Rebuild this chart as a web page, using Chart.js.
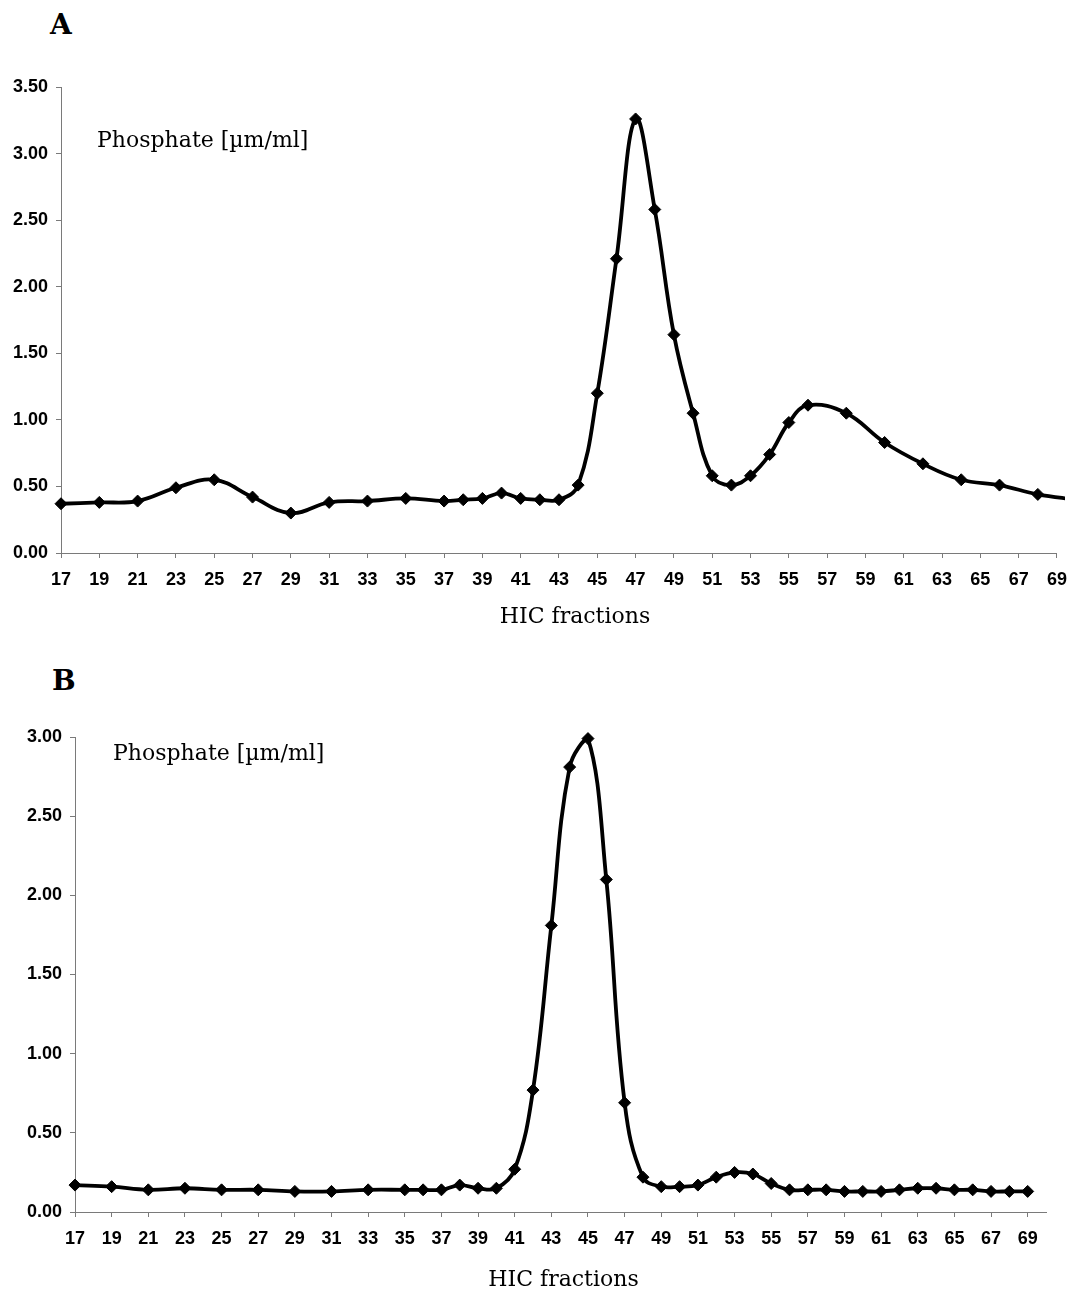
<!DOCTYPE html>
<html>
<head>
<meta charset="utf-8">
<script src="https://cdn.jsdelivr.net/npm/chart.js@4.4.1/dist/chart.umd.min.js"></script>
<style>
  body { margin: 0; background: #fff; }
  #wrap { position: relative; width: 1078px; height: 1296px; overflow: hidden; }
  canvas { position: absolute; left: 0; }
  #chartA { top: 0; }
  #chartB { top: 640px; }
  .panel {
    position: absolute;
    font-family: "DejaVu Serif", serif;
    font-weight: bold;
    font-size: 28px;
    line-height: 32px;
  }
</style>
</head>
<body>
<div id="wrap">
  <div class="panel" style="left:50px; top:9px;">A</div>
  <canvas id="chartA" width="1078" height="640"></canvas>
  <div class="panel" style="left:52px; top:665px;">B</div>
  <canvas id="chartB" width="1078" height="656"></canvas>
</div>

<script>
// --- Messwerte ---
const fractionsA = [17, 19, 21, 23, 25, 27, 29, 31, 33, 35, 37, 38, 39, 40, 41, 42, 43, 44, 45, 46, 47, 48, 49, 50, 51, 52, 53, 54, 55, 56, 58, 60, 62, 64, 66, 68, 70];
const phosphateA = [0.37, 0.38, 0.39, 0.49, 0.55, 0.42, 0.30, 0.38, 0.39, 0.41, 0.39, 0.40, 0.41, 0.45, 0.41, 0.40, 0.40, 0.51, 1.20, 2.21, 3.26, 2.58, 1.64, 1.05, 0.58, 0.51, 0.58, 0.74, 0.98, 1.11, 1.05, 0.83, 0.67, 0.55, 0.51, 0.44, 0.40];

const fractionsB = [17, 19, 21, 23, 25, 27, 29, 31, 33, 35, 36, 37, 38, 39, 40, 41, 42, 43, 44, 45, 46, 47, 48, 49, 50, 51, 52, 53, 54, 55, 56, 57, 58, 59, 60, 61, 62, 63, 64, 65, 66, 67, 68, 69];
const phosphateB = [0.17, 0.16, 0.14, 0.15, 0.14, 0.14, 0.13, 0.13, 0.14, 0.14, 0.14, 0.14, 0.17, 0.15, 0.15, 0.27, 0.77, 1.81, 2.81, 2.99, 2.10, 0.69, 0.22, 0.16, 0.16, 0.17, 0.22, 0.25, 0.24, 0.18, 0.14, 0.14, 0.14, 0.13, 0.13, 0.13, 0.14, 0.15, 0.15, 0.14, 0.14, 0.13, 0.13, 0.13];

const fractionTicks = [17, 19, 21, 23, 25, 27, 29, 31, 33, 35, 37, 39, 41, 43, 45, 47, 49, 51, 53, 55, 57, 59, 61, 63, 65, 67, 69];
const yTicksA = [0, 0.5, 1.0, 1.5, 2.0, 2.5, 3.0, 3.5];
const yTicksB = [0, 0.5, 1.0, 1.5, 2.0, 2.5, 3.0];

const yLabel = "Phosphate [µm/ml]";
const xLabel = "HIC fractions";

const axisGrey = "#7a7a7a";
const tickFont = { family: "'Liberation Sans', Arial, sans-serif", size: 18, weight: "bold" };
const serifFont = "'DejaVu Serif', serif";

// Beschriftung innerhalb der Zeichenfläche
const innerLabel = {
    id: "innerLabel",
    afterDraw(chart, args, opts) {
        const { ctx, chartArea } = chart;
        ctx.save();
        ctx.font = "22px " + serifFont;
        ctx.fillStyle = "#000";
        ctx.textBaseline = "alphabetic";
        ctx.fillText(opts.text, chartArea.left + opts.dx, chartArea.top + opts.dy);
        ctx.restore();
    }
};

// Achsentitel unter der x-Achse (Mitte frei verschiebbar)
const xCaption = {
    id: "xCaption",
    afterDraw(chart, args, opts) {
        const { ctx, chartArea } = chart;
        ctx.save();
        ctx.font = "22px " + serifFont;
        ctx.fillStyle = "#000";
        ctx.textAlign = "center";
        ctx.textBaseline = "middle";
        const mitte = (chartArea.left + chartArea.right) / 2 + opts.shift;
        ctx.fillText(opts.text, mitte, chart.height - opts.fromBottom);
        ctx.restore();
    }
};

function baueDiagramm(id, xs, ys, cfg) {
    const punkte = xs.map((x, i) => ({ x: x, y: ys[i] }));

    return new Chart(document.getElementById(id), {
        type: "line",
        data: {
            datasets: [{
                data: punkte,
                borderColor: "#000",
                borderWidth: 3.8,
                tension: 0.4,
                pointStyle: "rectRot",
                pointRadius: 6,
                pointBorderWidth: 1,
                pointBackgroundColor: "#000",
                pointBorderColor: "#000",
                clip: cfg.clip
            }]
        },
        options: {
            responsive: false,
            animation: false,
            events: [],
            layout: { padding: { top: cfg.top, right: cfg.right, left: 0, bottom: 0 } },
            plugins: {
                legend: { display: false },
                tooltip: { enabled: false },
                innerLabel: { text: yLabel, dx: cfg.labelDx, dy: cfg.labelDy },
                xCaption: { text: xLabel, shift: cfg.titleShift, fromBottom: cfg.titleFromBottom }
            },
            scales: {
                x: {
                    type: "linear",
                    min: 17,
                    max: cfg.xMax,
                    afterBuildTicks: s => { s.ticks = fractionTicks.map(v => ({ value: v })); },
                    afterFit: s => { s.height = cfg.xHeight; },
                    border: { display: true, color: axisGrey, width: 1 },
                    grid: { drawOnChartArea: false, drawTicks: true, tickLength: 5, color: axisGrey },
                    ticks: {
                        autoSkip: false,
                        maxRotation: 0,
                        padding: 11,
                        color: "#000",
                        font: tickFont
                    }
                },
                y: {
                    type: "linear",
                    min: 0,
                    max: cfg.yTicks[cfg.yTicks.length - 1],
                    afterBuildTicks: s => { s.ticks = cfg.yTicks.map(v => ({ value: v })); },
                    afterFit: s => { s.width = cfg.yWidth; },
                    border: { display: true, color: axisGrey, width: 1 },
                    grid: { drawOnChartArea: false, drawTicks: true, tickLength: 5, color: axisGrey },
                    ticks: {
                        padding: 8,
                        color: "#000",
                        font: tickFont,
                        callback: v => Number(v).toFixed(2)
                    }
                }
            }
        },
        plugins: [innerLabel, xCaption]
    });
}

// --- Diagramme erzeugen ---
baueDiagramm("chartA", fractionsA, phosphateA, {
    xMax: 69,
    yTicks: yTicksA,
    top: 87,
    right: 16,
    yWidth: 61,
    xHeight: 87,
    titleShift: 16,
    titleFromBottom: 23,
    labelDx: 36,
    labelDy: 60,
    clip: { left: false, top: false, bottom: false, right: 8 }
});

baueDiagramm("chartB", fractionsB, phosphateB, {
    xMax: 70,
    yTicks: yTicksB,
    top: 97,
    right: 32,
    yWidth: 75,
    xHeight: 84,
    titleShift: 3,
    titleFromBottom: 16,
    labelDx: 38,
    labelDy: 23,
    clip: false
});
</script>
</body>
</html>
